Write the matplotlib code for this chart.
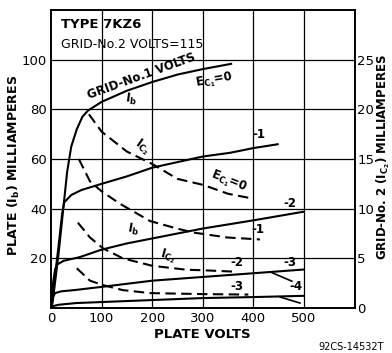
import numpy as np
import matplotlib.pyplot as plt

# plate current Ib (mA) for each grid-No.1 voltage
ib_volts = {
    '0': [0, 3, 15, 32, 40, 51, 62, 73, 100, 150, 200, 250, 300, 358],
    '-1': [0, 5, 15, 22, 26, 40, 60, 100, 150, 200, 300, 354, 400, 450],
    '-2': [0, 4, 8, 12, 25, 57, 100, 150, 200, 300, 400, 500],
    '-3': [0, 3, 8, 20, 50, 100, 200, 300, 400, 500],
    '-4': [0, 5, 15, 50, 100, 200, 300, 400, 500],
}
ib_ma = {
    '0': [0, 2, 22, 55, 65, 72, 77, 79.5, 83, 87.5, 91, 94, 96.2, 98.4],
    '-1': [0, 8, 25, 38, 42.5, 45.5, 47.5, 50, 53, 56.5, 61, 62.5, 64.4, 66],
    '-2': [0, 10, 15.5, 17.5, 19, 20.5, 23.5, 26, 28, 32, 35.3, 38.8],
    '-3': [0, 4, 6, 6.7, 7.3, 8.5, 11, 12.5, 14, 15.5],
    '-4': [0, 0.8, 1.3, 2, 2.4, 3.2, 4, 4.4, 4.9],
}

# grid-No.2 current Ic2 (mA), right-hand scale
ic2_volts = {
    '0': [75, 100, 150, 200, 250, 300, 350, 400],
    '-1': [55, 77, 100, 136, 196, 249, 281, 348, 413],
    '-2': [53, 77, 103, 142, 200, 268, 300, 367],
    '-3': [51, 77, 103, 142, 196, 300, 390],
}
ic2_ma = {
    '0': [19.5, 17.75, 15.75, 14.5, 13.0, 12.4, 11.5, 11.0],
    '-1': [15.0, 12.75, 11.75, 10.5, 8.75, 8.0, 7.6, 7.1, 6.9],
    '-2': [8.6, 7.1, 6.0, 5.0, 4.25, 3.85, 3.8, 3.65],
    '-3': [4.0, 2.75, 2.3, 1.8, 1.5, 1.4, 1.35],
}

x_ticks = [0, 100, 200, 300, 400, 500]
left_ticks = [20, 40, 60, 80, 100]
right_ticks = [0, 5, 10, 15, 20, 25]

# curve labels: (text, plate volts, left-scale mA, rotation)
curve_labels = [
    ('GRID-No.1 VOLTS', 178, 93.5, 20),
    (r'$\mathregular{I_b}$', 158, 84, -8),
    (r'$\mathregular{E_{C_1}}$=0', 322, 91.5, 10),
    ('-1', 410, 70, 0),
    (r'$\mathregular{I_{C_2}}$', 180, 65, -35),
    (r'$\mathregular{E_{C_1}}$=0', 352, 51, -22),
    ('-1', 408, 31.5, 0),
    ('-2', 472, 42, 0),
    (r'$\mathregular{I_b}$', 162, 31.5, -10),
    (r'$\mathregular{I_{C_2}}$', 232, 21, -15),
    ('-2', 367, 18.5, 0),
    ('-3', 472, 18.5, 0),
    ('-3', 367, 8.6, 0),
    ('-4', 485, 8.6, 0),
]
leaders = [((437, 476), (14.2, 10.8)), ((453, 492), (4.4, 2.0))]

plt.rcParams['font.family'] = 'DejaVu Sans'
fig = plt.figure(figsize=(3.92, 3.53), dpi=100)
ax = fig.add_axes([51 / 392, 1 - 308 / 353, 303.6 / 392, 298 / 353])
ax2 = ax.twinx()

for v in [100, 200, 300, 400, 500]:
    ax.axvline(v, color='black', lw=0.9, zorder=1)
for y in left_ticks:
    ax.axhline(y, color='black', lw=0.9, zorder=1)

for k in ib_volts:
    ax.plot(ib_volts[k], ib_ma[k], color='black', lw=1.5, zorder=3,
            solid_capstyle='butt')
for k in ic2_volts:
    ax2.plot(ic2_volts[k], ic2_ma[k], color='black', lw=1.5,
             dashes=(5, 2.6), zorder=3)

for txt, xv, yv, rot in curve_labels:
    ax.text(xv, yv, txt, fontsize=8.5, fontweight='bold', rotation=rot,
            ha='center', va='center', rotation_mode='anchor', zorder=4)
for xs, ys in leaders:
    ax.plot(xs, ys, color='black', lw=1.2, zorder=3)

ax.text(20, 114, 'TYPE 7KZ6', fontsize=9.5, fontweight='bold', va='center')
ax.text(20, 106, 'GRID-No.2 VOLTS=115', fontsize=9, va='center')

ax.set_xlim(0, 600)
ax.set_ylim(0, 120)
ax2.set_ylim(0, 30)
ax.set_xticks(x_ticks)
ax.set_yticks(left_ticks)
ax2.set_yticks(right_ticks)
ax.tick_params(length=0, labelsize=9.5, pad=3)
ax2.tick_params(length=0, labelsize=9.5, pad=2)
for a in (ax, ax2):
    for s in a.spines.values():
        s.set_linewidth(1.2)

ax.set_xlabel('PLATE VOLTS', fontsize=9.5, fontweight='bold', labelpad=2)
fig.text(14 / 392, 1 - 165 / 353, r'PLATE ($\mathregular{I_b}$) MILLIAMPERES',
         rotation=90, fontsize=9, fontweight='bold', ha='center', va='center')
fig.text(383 / 392, 1 - 157 / 353,
         r'GRID-No. 2 ($\mathregular{I_{C_2}}$) MILLIAMPERES',
         rotation=90, fontsize=8.5, fontweight='bold', ha='center', va='center')
fig.text(384 / 392, 1 - 347 / 353, '92CS-14532T', fontsize=7, ha='right',
         va='center')

fig.savefig('out.png', dpi=100)
